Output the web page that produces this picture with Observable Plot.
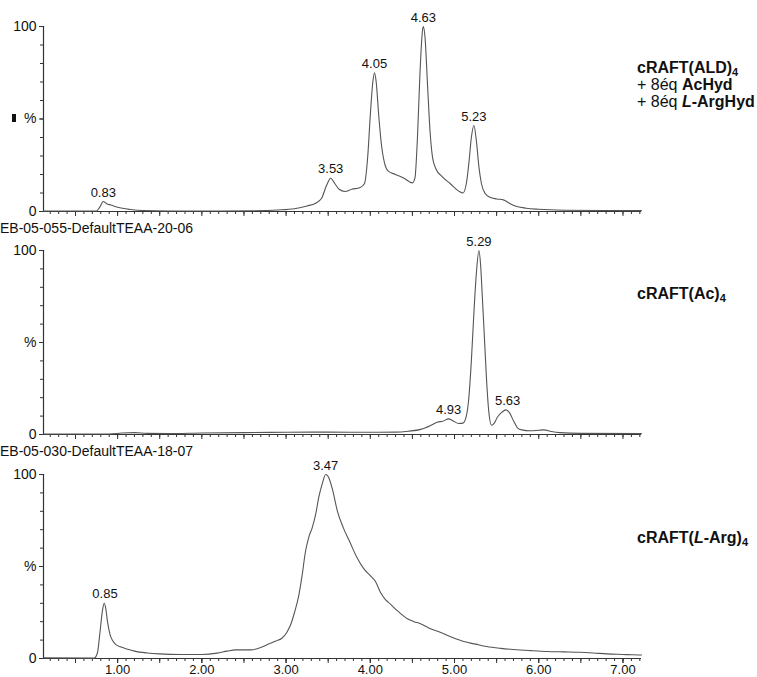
<!DOCTYPE html>
<html><head><meta charset="utf-8">
<script src="https://cdn.jsdelivr.net/npm/d3@7"></script>
<script src="https://cdn.jsdelivr.net/npm/@observablehq/plot@0.6"></script>
<style>
body{margin:0;background:#fff;}
#wrap{position:relative;width:757px;height:677px;overflow:hidden;font-family:"Liberation Sans",Arial,sans-serif;color:#111;}
.p{position:absolute;left:0;}
.lab{position:absolute;left:637px;font-size:16px;font-weight:bold;line-height:17px;white-space:nowrap;}
.reg{font-weight:normal;}
.run{position:absolute;left:0px;font-size:14px;line-height:16px;white-space:nowrap;}
sub{font-size:11px;position:relative;top:3px;vertical-align:baseline;line-height:0;}
.blk{position:absolute;left:12px;top:114px;width:4px;height:8px;background:#111;}
</style></head><body><div id="wrap"></div>
<script>
// ---- data (retention time in min, relative intensity %) ----
const trace1T = [0.12,0.75,0.79,0.83,0.87,0.92,1.00,1.15,1.30,1.60,2.20,2.60,2.90,3.10,3.25,3.35,3.42,3.48,3.53,3.58,3.63,3.70,3.78,3.88,3.93,3.97,4.00,4.03,4.05,4.07,4.10,4.13,4.17,4.21,4.30,4.40,4.50,4.53,4.56,4.59,4.62,4.63,4.65,4.68,4.71,4.74,4.78,4.85,4.95,5.05,5.10,5.14,5.17,5.20,5.23,5.26,5.29,5.32,5.36,5.42,5.50,5.58,5.65,5.72,5.85,6.00,6.30,6.80,7.22];
const trace1V = [0.3,0.3,2.5,5.4,4.2,3.5,2.3,1.1,0.5,0.3,0.3,0.4,0.8,1.5,3,4.5,7,14,18,15,12,10.8,12,13,15,30,52,70,75,70,52,37,26,22,20,18,15.5,18,40,75,98,100,94,68,43,29,23,19,15,11,10,15,26,40,46.5,38,24,15,10,7.7,6.8,6.3,4.5,3,1.8,1.2,0.7,0.5,0.5];

const trace2T = [0.12,0.90,1.05,1.20,1.35,1.60,2.00,2.50,3.00,3.50,4.00,4.30,4.45,4.60,4.72,4.80,4.86,4.93,4.98,5.05,5.10,5.14,5.17,5.20,5.23,5.26,5.29,5.31,5.33,5.36,5.38,5.41,5.44,5.47,5.51,5.56,5.61,5.65,5.70,5.75,5.80,5.90,6.00,6.06,6.15,6.25,6.50,7.22];
const trace2V = [0.3,0.3,0.8,1.0,0.6,0.5,0.8,1.0,1.2,1.3,1.2,1.3,1.8,2.8,5,6.8,7.2,8.5,7.5,6,6.2,10,20,40,66,88,100,92,75,48,30,11,5,6,9.5,12,13.4,12,7.5,3.5,2.5,2,2.3,2.5,1.6,1,0.6,0.5];

const trace3T = [0.12,0.72,0.76,0.79,0.82,0.84,0.86,0.88,0.91,0.94,0.98,1.04,1.12,1.20,1.35,1.50,1.75,2.00,2.18,2.30,2.40,2.58,2.70,2.78,2.88,2.95,3.01,3.06,3.10,3.15,3.19,3.23,3.27,3.31,3.35,3.39,3.43,3.47,3.51,3.55,3.61,3.68,3.76,3.84,3.92,4.00,4.06,4.12,4.18,4.24,4.32,4.44,4.52,4.59,4.70,4.83,4.97,5.11,5.25,5.38,5.55,5.70,5.90,6.10,6.30,6.49,6.65,6.81,7.00,7.12,7.22];
const trace3V = [0.4,0.2,3,14,26,30,27,20,13,9.8,7.5,6.2,5,4,3,2.5,2.2,2.2,2.9,4,4.7,4.7,6,7.6,9.5,11,14.3,19,25,34,45,58,66,71,78,88,95,100,98,92,80,71,63,55,49,45,42,36,32,29.5,26,21.6,20,19,16.5,14.3,11.5,9.2,7.8,6.5,5.5,4.9,4.3,3.8,3.6,3.4,3,2.5,2.2,2.0,1.9];

const peaks1T = [0.83,3.53,4.05,4.63,5.23];
const peaks1V = [5.4,18,75,100,46.5];
const peaks2T = [4.93,5.29,5.63];
const peaks2V = [8.5,100,13.4];
const peaks3T = [0.85,3.47];
const peaks3V = [30,100];

const xDomain = [0.12,7.22];
const xLabelTicks = [1,2,3,4,5,6,7];
const yLabelTicks = [0,50,100];
const yLabelText = ["0","%","100"];
const runLabels = ["EB-05-055-DefaultTEAA-20-06","EB-05-030-DefaultTEAA-18-07"];

// ---- drawing ----
const ink = "#333";
const lineInk = "#555";
const font = "'Liberation Sans', Arial, sans-serif";

function panel(tArr, vArr, pT, pV, height, marginBottom, showX) {
  const data = tArr.map((t,i)=>({t, v:vArr[i]}));
  const peaks = pT.map((t,i)=>({t, v:pV[i]}));
  const minorX = d3.range(2, 73).map(d=>d/10);
  const halfX = d3.range(1, 15).map(d=>d/2);
  const marks = [
    Plot.axisY({ticks: d3.range(0,101,10), tickSize:3, tickFormat:()=>"", stroke:ink}),
    Plot.axisY({ticks: yLabelTicks, tickSize:4, tickPadding:3, fontSize:14, fill:"#111", stroke:ink,
      tickFormat:d=>yLabelText[yLabelTicks.indexOf(d)]}),
    Plot.axisX({ticks: minorX, tickSize:3, tickFormat:()=>"", stroke:ink}),
    Plot.axisX({ticks: halfX, tickSize:5, tickFormat:()=>"", stroke:ink}),
    Plot.ruleY([0], {stroke:ink, strokeWidth:1.2}),
    Plot.ruleX([xDomain[0]], {stroke:ink, strokeWidth:1.2}),
    Plot.line(data, {x:"t", y:"v", stroke:lineInk, strokeWidth:1.1, curve:"monotone-x"}),
    Plot.text(peaks, {x:"t", y:"v", text:d=>d.t.toFixed(2), dy:-9, fontSize:13, fill:"#111"})
  ];
  if (showX) marks.push(Plot.axisX({ticks: xLabelTicks, tickSize:5, tickPadding:1, fontSize:13, fill:"#111", stroke:ink, tickFormat:d=>d.toFixed(2)}));
  return Plot.plot({
    width:757, height, marginLeft:43, marginRight:116, marginTop:26, marginBottom,
    x:{domain:xDomain, label:null},
    y:{domain:[0,100], label:null},
    style:{fontFamily:font, background:"transparent", color:"#111"},
    marks
  });
}

const wrap = document.getElementById("wrap");
const specs = [
  [trace1T, trace1V, peaks1T, peaks1V, 224, 13, false, 0],
  [trace2T, trace2V, peaks2T, peaks2V, 224, 14, false, 224],
  [trace3T, trace3V, peaks3T, peaks3V, 229, 19, true, 448]
];
for (const s of specs) {
  const el = panel(s[0], s[1], s[2], s[3], s[4], s[5], s[6]);
  el.classList.add("p");
  el.style.top = s[7] + "px";
  wrap.appendChild(el);
}
function addDiv(cls, top, html) {
  const d = document.createElement("div");
  d.className = cls; d.style.top = top + "px"; d.innerHTML = html;
  wrap.appendChild(d);
}
addDiv("run", 220, runLabels[0]);
addDiv("run", 443, runLabels[1]);
addDiv("lab", 59, "cRAFT(ALD)<sub>4</sub><br><span class='reg'>+ 8éq </span>AcHyd<br><span class='reg'>+ 8éq </span><i>L</i>-ArgHyd");
addDiv("lab", 285, "cRAFT(Ac)<sub>4</sub>");
addDiv("lab", 529, "cRAFT(<i>L</i>-Arg)<sub>4</sub>");
const b = document.createElement("div"); b.className = "blk"; wrap.appendChild(b);
</script></body></html>
